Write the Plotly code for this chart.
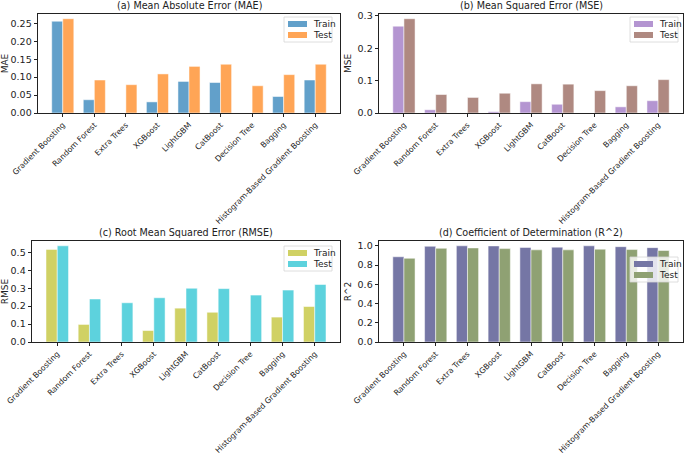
import plotly.graph_objects as go

models = ["Gradient Boosting", "Random Forest", "Extra Trees", "XGBoost", "LightGBM",
          "CatBoost", "Decision Tree", "Bagging", "Histogram-Based Gradient Boosting"]

mae_train = [0.256, 0.037, 0.0, 0.031, 0.088, 0.085, 0.0, 0.046, 0.092]
mae_test = [0.263, 0.092, 0.079, 0.109, 0.130, 0.136, 0.076, 0.107, 0.136]

mse_train = [0.268, 0.010, 0.0, 0.004, 0.035, 0.027, 0.0, 0.019, 0.038]
mse_test = [0.291, 0.057, 0.048, 0.061, 0.090, 0.089, 0.069, 0.084, 0.103]

rmse_train = [0.517, 0.098, 0.0, 0.064, 0.189, 0.166, 0.0, 0.139, 0.198]
rmse_test = [0.537, 0.240, 0.219, 0.247, 0.300, 0.298, 0.262, 0.290, 0.321]

r2_train = [0.886, 0.995, 1.000, 0.999, 0.983, 0.986, 1.000, 0.991, 0.981]
r2_test = [0.870, 0.974, 0.978, 0.971, 0.958, 0.958, 0.965, 0.961, 0.951]

series_names = ["Train", "Test"]

W, H = 685, 454
FONT = "DejaVu Sans"
INK = "#222"

panels = [
    # title, ylabel, train, test, colours, x px, y px, dtick, fmt, legend box px (x0, y0)
    ("(a) Mean Absolute Error (MAE)", "MAE", mae_train, mae_test, ("#62a0ca", "#ffa556"),
     (38, 340), (14, 113), 0.05, ".2f", (284, 17)),
    ("(b) Mean Squared Error (MSE)", "MSE", mse_train, mse_test, ("#b495d1", "#af8981"),
     (379, 683), (14, 113), 0.1, ".1f", (630, 17)),
    ("(c) Root Mean Squared Error (RMSE)", "RMSE", rmse_train, rmse_test, ("#d0d164", "#5dd2dd"),
     (32, 340), (241, 342), 0.1, ".1f", (284, 246)),
    ("(d) Coefficient of Determination (R^2)", "R^2", r2_train, r2_test, ("#7576a5", "#8fa173"),
     (379, 683), (241, 342), 0.2, ".1f", (630, 257)),
]


def px(x, y):
    return x / W, 1 - y / H


fig = go.Figure()
annotations = []
shapes = []

for i, (title, ylab, train, test, cols, xpx, ypx, dtick, fmt, leg) in enumerate(panels):
    n = "" if i == 0 else str(i + 1)
    ymax = max(train + test) * 1.05
    for vals, name, col in zip((train, test), series_names, cols):
        fig.add_trace(go.Bar(x=models, y=vals, name=name, marker_color=col,
                             marker_line=dict(color="white", width=0.5),
                             xaxis="x" + n, yaxis="y" + n, showlegend=False))

    xdom = [xpx[0] / W, xpx[1] / W]
    ydom = [1 - ypx[1] / H, 1 - ypx[0] / H]
    axis_style = dict(showline=True, linecolor=INK, linewidth=0.8, mirror=True,
                      ticks="outside", ticklen=3.5, tickwidth=0.8, tickcolor=INK,
                      showgrid=False, zeroline=False, automargin=False)
    fig.update_layout(**{
        "xaxis" + n: dict(domain=xdom, anchor="y" + n, range=[-0.785, 8.785],
                          tickangle=-45, tickfont=dict(size=7.8, color=INK), **axis_style),
        "yaxis" + n: dict(domain=ydom, anchor="x" + n, range=[0, ymax], dtick=dtick,
                          tickformat=fmt, tickfont=dict(size=9.5, color=INK),
                          title=dict(text=ylab, font=dict(size=9, color=INK), standoff=4),
                          **axis_style),
    })
    annotations.append(dict(text=title, x=(xdom[0] + xdom[1]) / 2, y=ydom[1], xref="paper",
                            yref="paper", xanchor="center", yanchor="bottom", yshift=1,
                            showarrow=False, font=dict(size=9.6, color=INK)))

    # legend box (matplotlib style)
    lx, ly = leg
    bx0, by0 = px(lx, ly)
    bx1, by1 = px(lx + 48, ly + 25)
    shapes.append(dict(type="rect", xref="paper", yref="paper", x0=bx0, y0=by1, x1=bx1, y1=by0,
                       line=dict(color="#d6d6d6", width=0.8), fillcolor="rgba(255,255,255,0.8)",
                       layer="above"))
    for k, (name, col) in enumerate(zip(series_names, cols)):
        cy = ly + 7 + k * 11
        sx0, sy0 = px(lx + 4, cy - 3)
        sx1, sy1 = px(lx + 23, cy + 3)
        shapes.append(dict(type="rect", xref="paper", yref="paper", x0=sx0, y0=sy1, x1=sx1,
                           y1=sy0, line=dict(width=0), fillcolor=col, layer="above"))
        tx, ty = px(lx + 27, cy)
        annotations.append(dict(text=name, x=tx, y=ty, xref="paper", yref="paper",
                                xanchor="left", yanchor="middle", showarrow=False,
                                font=dict(size=9, color=INK)))

fig.update_layout(
    width=W, height=H,
    margin=dict(l=0, r=0, t=0, b=0),
    barmode="group", bargap=0.3, bargroupgap=0,
    paper_bgcolor="white", plot_bgcolor="white",
    font=dict(family=FONT, color=INK),
    annotations=annotations,
    shapes=shapes,
    showlegend=False,
)

fig.write_html("out.html", config={"displayModeBar": False},
               post_script="document.body.style.margin='0';")
